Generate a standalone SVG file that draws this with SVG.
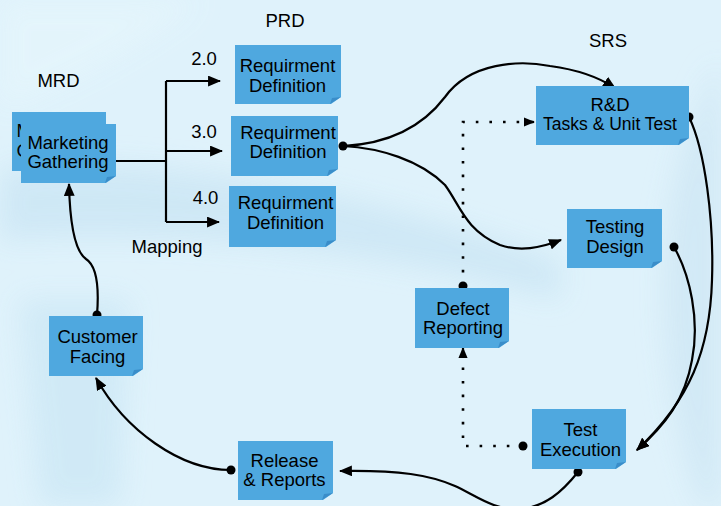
<svg xmlns="http://www.w3.org/2000/svg" width="721" height="506" viewBox="0 0 721 506">
<defs>
<style>
.box{fill:#4fa8df;}
.fold{fill:#3a8dc9;}
.t{font-family:"Liberation Sans",Arial,sans-serif;font-size:18.5px;fill:#000;text-anchor:middle;}
.lbl{font-family:"Liberation Sans",Arial,sans-serif;font-size:18.5px;fill:#000;text-anchor:middle;}
.c{fill:none;stroke:#000;stroke-width:2.2;}
.d{fill:none;stroke:#000;stroke-width:2.6;stroke-dasharray:2.6 11;}
.dot{fill:#000;}
</style>
<marker id="ah" viewBox="0 0 12 10" refX="11" refY="5" markerUnits="userSpaceOnUse" markerWidth="13" markerHeight="11" orient="auto">
<path d="M0,0 L12,5 L0,10 Z" fill="#000"/>
</marker>
<marker id="ahs" viewBox="0 0 12 10" refX="11" refY="5" markerUnits="userSpaceOnUse" markerWidth="11" markerHeight="10" orient="auto">
<path d="M0,0 L12,5 L0,10 Z" fill="#000"/>
</marker>
<filter id="blur" x="-20%" y="-20%" width="140%" height="140%"><feGaussianBlur stdDeviation="14"/></filter>
<clipPath id="backclip"><path d="M12,112 H106 V124 H21 V171 H12 Z"/></clipPath>
</defs>

<g id="background">
<rect width="721" height="506" fill="#dff2fb"/>
<g filter="url(#blur)" opacity="0.9">
<path d="M0,170 C150,150 350,190 560,260 L560,300 C380,250 200,230 0,240 Z" fill="#cde7f5"/>
<path d="M20,300 L130,300 L120,506 L40,506 Z" fill="#cfe9f6"/>
<path d="M721,60 C660,160 640,330 700,506 L721,506 Z" fill="#d0e8f5"/>
<path d="M0,0 L200,0 C150,40 80,80 0,110 Z" fill="#e4f5fc"/>
</g>
</g>

<g id="labels">
<text class="lbl" x="58.5" y="87">MRD</text>
<text class="lbl" x="285" y="27">PRD</text>
<text class="lbl" x="608" y="47">SRS</text>
<text class="lbl" x="204" y="65">2.0</text>
<text class="lbl" x="204" y="138">3.0</text>
<text class="lbl" x="205.5" y="204">4.0</text>
<text class="lbl" x="167" y="253">Mapping</text>
</g>

<g id="connectors">
<path class="c" d="M116,161 H166"/>
<path class="c" d="M166,81 V222"/>
<path class="c" d="M166,81 H220" marker-end="url(#ah)"/>
<path class="c" d="M166,151 H222" marker-end="url(#ah)"/>
<path class="c" d="M166,222 H219" marker-end="url(#ah)"/>
<path class="c" d="M343,146 C385,144 420,130 445,97 C470,62 520,60 550,66 C580,70 600,78 615,88" marker-end="url(#ah)"/>
<path class="c" d="M343,146 C380,148 420,160 445,185 C460,205 465,230 500,245 C520,252 540,248 561,240" marker-end="url(#ah)"/>
<path class="c" d="M689,117 C705,150 714,220 712,280 C710,350 690,400 637,450" marker-end="url(#ah)"/>
<path class="c" d="M674,247 C690,275 700,320 692,360 C685,400 665,425 637,450" marker-end="url(#ah)"/>
<path class="c" d="M578,472 C562,492 545,507 520,509 C495,511 475,495 455,486 C430,475 400,470 340,471" marker-end="url(#ah)"/>
<path class="c" d="M231,470 C180,470 125,430 96,378" marker-end="url(#ah)"/>
<path class="c" d="M97,315 C99,290 97,266 86,259 C76,252 70,230 69,184" marker-end="url(#ah)"/>
<path class="d" d="M463,286 V122 H533"/>
<path class="c" d="M526,122 H534" marker-end="url(#ahs)" stroke-width="0.5"/>
<path class="d" d="M523,446 H463 V352"/>
<path class="c" d="M463,356 V348" marker-end="url(#ahs)" stroke-width="0.5"/>
<circle class="dot" cx="343" cy="146" r="4.5"/>
<circle class="dot" cx="689" cy="117" r="4.5"/>
<circle class="dot" cx="674" cy="247" r="4.5"/>
<circle class="dot" cx="463" cy="286" r="4.5"/>
<circle class="dot" cx="523" cy="446" r="4.5"/>
<circle class="dot" cx="578" cy="472" r="4.5"/>
<circle class="dot" cx="231" cy="470" r="4.5"/>
<circle class="dot" cx="97" cy="315" r="4.5"/>
</g>

<g id="node-marketing-back">
<path class="box" d="M12,112 H106 V164 L97,171 H12 Z"/>
<path class="fold" d="M96,171 L106,164 L98,166 Z"/>
<g clip-path="url(#backclip)">
<text class="t" x="57" y="137">Marketing</text>
<text class="t" x="57" y="157">Gathering</text>
</g>
</g>
<g id="node-marketing">
<path class="box" d="M21,124 H116 V176 L106,183 H21 Z"/>
<path class="fold" d="M105,183 L116,176 L107,177 Z"/>
<text class="t" x="68" y="149">Marketing</text>
<text class="t" x="68" y="168">Gathering</text>
</g>
<g id="node-req2">
<path class="box" d="M235,45 H341 V97 L331,104 H235 Z"/>
<path class="fold" d="M330,104 L341,97 L332,98 Z"/>
<text class="t" x="287.5" y="72">Requirment</text>
<text class="t" x="287.5" y="92">Definition</text>
</g>
<g id="node-req3">
<path class="box" d="M231,116 H338 V169 L328,176 H231 Z"/>
<path class="fold" d="M327,176 L338,169 L329,170 Z"/>
<text class="t" x="288" y="139">Requirment</text>
<text class="t" x="288" y="158">Definition</text>
</g>
<g id="node-req4">
<path class="box" d="M229,186 H336 V240 L326,247 H229 Z"/>
<path class="fold" d="M325,247 L336,240 L327,241 Z"/>
<text class="t" x="285.5" y="209">Requirment</text>
<text class="t" x="285.5" y="229">Definition</text>
</g>
<g id="node-rd">
<path class="box" d="M536,86 H689 V138 L679,145 H536 Z"/>
<path class="fold" d="M678,145 L689,138 L680,139 Z"/>
<text class="t" x="610" y="111">R&amp;D</text>
<text class="t" x="610" y="130" style="font-size:17.5px">Tasks &amp; Unit Test</text>
</g>
<g id="node-testing-design">
<path class="box" d="M567,209 H662 V261 L652,268 H567 Z"/>
<path class="fold" d="M651,268 L662,261 L653,262 Z"/>
<text class="t" x="615" y="233">Testing</text>
<text class="t" x="615" y="253">Design</text>
</g>
<g id="node-defect">
<path class="box" d="M415,288 H509 V341 L499,348 H415 Z"/>
<path class="fold" d="M498,348 L509,341 L500,342 Z"/>
<text class="t" x="463" y="315">Defect</text>
<text class="t" x="463" y="334">Reporting</text>
</g>
<g id="node-test-exec">
<path class="box" d="M532,409 H626 V462 L616,469 H532 Z"/>
<path class="fold" d="M615,469 L626,462 L617,463 Z"/>
<text class="t" x="580.5" y="436">Test</text>
<text class="t" x="580.5" y="456">Execution</text>
</g>
<g id="node-customer">
<path class="box" d="M49,316 H143 V369 L133,376 H49 Z"/>
<path class="fold" d="M132,376 L143,369 L134,370 Z"/>
<text class="t" x="97.5" y="343">Customer</text>
<text class="t" x="97.5" y="363">Facing</text>
</g>
<g id="node-release">
<path class="box" d="M238,441 H333 V493 L323,500 H238 Z"/>
<path class="fold" d="M322,500 L333,493 L324,494 Z"/>
<text class="t" x="284.5" y="467">Release</text>
<text class="t" x="284.5" y="486">&amp; Reports</text>
</g>
</svg>
